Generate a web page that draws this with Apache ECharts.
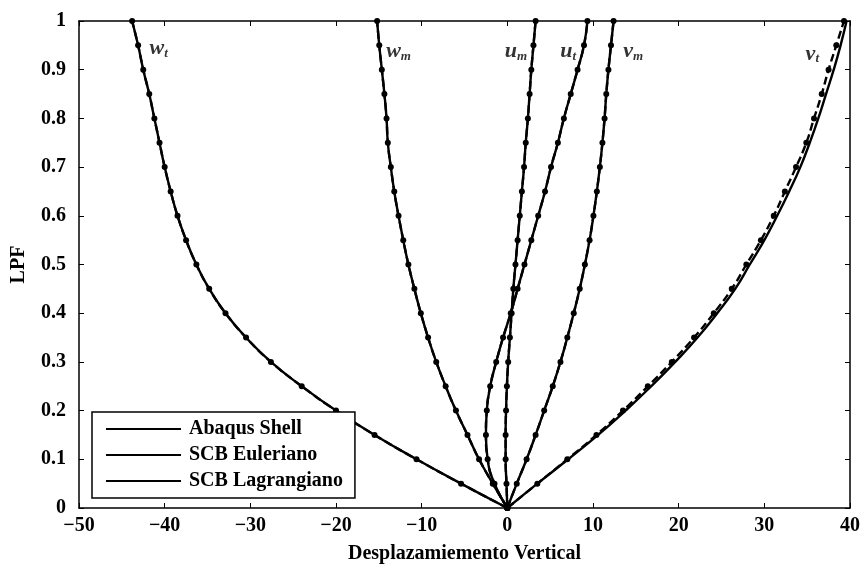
<!DOCTYPE html>
<html>
<head>
<meta charset="utf-8">
<script src="https://cdn.jsdelivr.net/npm/echarts@6/dist/echarts.min.js"></script>
<style>
  html, body { margin: 0; padding: 0; background: #fff; }
  #chart { width: 863px; height: 569px; }
</style>
</head>
<body>
<div id="chart"></div>
<script>
// load factor levels (y values of every marker)
var lpf = [0, 0.05, 0.1, 0.15, 0.2, 0.25, 0.3, 0.35, 0.4, 0.45, 0.5,
           0.55, 0.6, 0.65, 0.7, 0.75, 0.8, 0.85, 0.9, 0.95, 1];

// displacements
var wt = [0, -5.4, -10.6, -15.5, -20.0, -24.0, -27.6, -30.5, -32.9, -34.8, -36.3,
          -37.5, -38.5, -39.3, -40.0, -40.6, -41.2, -41.8, -42.5, -43.1, -43.8];
var wm = [0, -1.7, -3.3, -4.65, -6.0, -7.2, -8.3, -9.25, -10.1, -10.85, -11.55,
          -12.15, -12.7, -13.2, -13.6, -13.95, -14.1, -14.35, -14.65, -14.95, -15.2];
var um = [0, -0.1, -0.2, -0.2, -0.15, -0.05, 0.1, 0.3, 0.5, 0.7, 0.95,
          1.2, 1.45, 1.7, 1.95, 2.15, 2.4, 2.6, 2.8, 3.05, 3.3];
var ut = [0, -1.5, -2.3, -2.5, -2.4, -2.0, -1.3, -0.5, 0.4, 1.2, 2.0,
          2.8, 3.6, 4.4, 5.1, 5.9, 6.6, 7.4, 8.2, 8.95, 9.35];
var vm = [0, 1.1, 2.25, 3.3, 4.3, 5.3, 6.2, 7.0, 7.75, 8.45, 9.05,
          9.6, 10.05, 10.45, 10.8, 11.1, 11.35, 11.55, 11.8, 12.1, 12.4];
var vt = [0, 3.5, 7.0, 10.4, 13.5, 16.4, 19.2, 21.8, 24.1, 26.2, 27.9,
          29.6, 31.1, 32.4, 33.7, 34.9, 35.8, 36.7, 37.5, 38.4, 39.3];
// Abaqus shell differs a little from the beam models for v_t
var vtAbaqus = [0, 3.5, 7.1, 10.6, 13.8, 16.8, 19.6, 22.2, 24.5, 26.6, 28.3,
                30.0, 31.5, 32.9, 34.2, 35.3, 36.3, 37.2, 38.1, 38.9, 39.6];

var curveNames = ['w|t', 'w|m', 'u|m', 'u|t', 'v|m', 'v|t'];
var curveAbaqus = [wt, wm, um, ut, vm, vtAbaqus];
var curveBeam = [wt, wm, um, ut, vm, vt];
// where the curve names sit (data units)
var labelAnchor = [[-40.7, 0.943], [-12.7, 0.937], [1.0, 0.937], [7.1, 0.937], [14.7, 0.937], [35.6, 0.932]];

var legendNames = ['Abaqus Shell', 'SCB Euleriano', 'SCB Lagrangiano'];

function pairs(xs) {
  return xs.map(function (x, i) { return [x, lpf[i]]; });
}

var font = 'Liberation Serif';
var series = [];
for (var i = 0; i < curveNames.length; i++) {
  series.push({
    name: legendNames[0], type: 'line', data: pairs(curveAbaqus[i]),
    showSymbol: false, smooth: true, silent: true,
    lineStyle: { color: '#000', width: 2.4 }, itemStyle: { color: '#000' }
  });
  series.push({
    name: legendNames[1], type: 'line', data: pairs(curveBeam[i]),
    showSymbol: false, smooth: true, silent: true,
    lineStyle: { color: '#000', width: 2.4, type: [8, 4] }, itemStyle: { color: '#000' }
  });
  series.push({
    name: legendNames[2], type: 'line', data: pairs(curveBeam[i]),
    symbol: 'circle', symbolSize: 6, silent: true,
    lineStyle: { width: 0, opacity: 0 }, itemStyle: { color: '#000' }
  });
}

series.push({
  type: 'scatter', silent: true, symbolSize: 0,
  data: labelAnchor.map(function (p, i) { return { value: p, name: curveNames[i] }; }),
  label: {
    show: true, position: 'inside',
    formatter: function (p) {
      var s = p.name.split('|');
      return '{v|' + s[0] + '}{s|' + s[1] + '}';
    },
    rich: {
      v: { fontFamily: font, fontStyle: 'italic', fontWeight: 'bold', fontSize: 22, color: '#000' },
      s: { fontFamily: font, fontStyle: 'italic', fontWeight: 'bold', fontSize: 13, color: '#000', padding: [10, 0, 0, 0] }
    }
  }
});

var axisText = { fontFamily: font, fontSize: 20, fontWeight: 'bold', color: '#000' };

var chart = echarts.init(document.getElementById('chart'));
chart.setOption({
  animation: false,
  backgroundColor: '#fff',
  textStyle: { fontFamily: font, color: '#000' },
  grid: { left: 79, right: 10, top: 21, bottom: 60 },
  legend: {
    data: legendNames,
    orient: 'vertical',
    left: 92, top: 412,
    padding: [6, 12, 6, 14],
    itemWidth: 75, itemHeight: 2, itemGap: 4,
    icon: 'rect',
    borderColor: '#000', borderWidth: 1.5,
    backgroundColor: '#fff',
    itemStyle: { color: '#000' },
    textStyle: { fontFamily: font, fontSize: 20, fontWeight: 'bold', color: '#000', padding: [0, 0, 0, 3], lineHeight: 22 }
  },
  xAxis: [{
    type: 'value', min: -50, max: 40, interval: 10,
    name: 'Desplazamiemento Vertical', nameLocation: 'middle', nameGap: 36,
    nameTextStyle: axisText,
    axisLine: { onZero: false, lineStyle: { color: '#000', width: 1.5 } },
    axisTick: { inside: true, length: 5, lineStyle: { color: '#000' } },
    axisLabel: {
      fontFamily: font, fontSize: 20, fontWeight: 'bold', color: '#000', margin: 8,
      formatter: function (v) { return v < 0 ? '\u2212' + (-v) : String(v); }
    },
    splitLine: { show: false }
  }, {
    type: 'value', min: -50, max: 40, interval: 10, position: 'top',
    axisLine: { onZero: false, lineStyle: { color: '#000', width: 1.5 } },
    axisTick: { inside: true, length: 5, lineStyle: { color: '#000' } },
    axisLabel: { show: false }, splitLine: { show: false }
  }],
  yAxis: [{
    type: 'value', min: 0, max: 1, interval: 0.1,
    name: 'LPF', nameLocation: 'middle', nameGap: 50,
    nameTextStyle: axisText,
    axisLine: { show: true, onZero: false, lineStyle: { color: '#000', width: 1.5 } },
    axisTick: { show: true, inside: true, length: 5, lineStyle: { color: '#000' } },
    axisLabel: {
      fontFamily: font, fontSize: 20, fontWeight: 'bold', color: '#000', margin: 13,
      formatter: function (v) { return String(Math.round(v * 10) / 10); }
    },
    splitLine: { show: false }
  }, {
    type: 'value', min: 0, max: 1, interval: 0.1, position: 'right',
    axisLine: { show: true, onZero: false, lineStyle: { color: '#000', width: 1.5 } },
    axisTick: { show: true, inside: true, length: 5, lineStyle: { color: '#000' } },
    axisLabel: { show: false }, splitLine: { show: false }
  }],
  series: series
});
</script>
</body>
</html>
